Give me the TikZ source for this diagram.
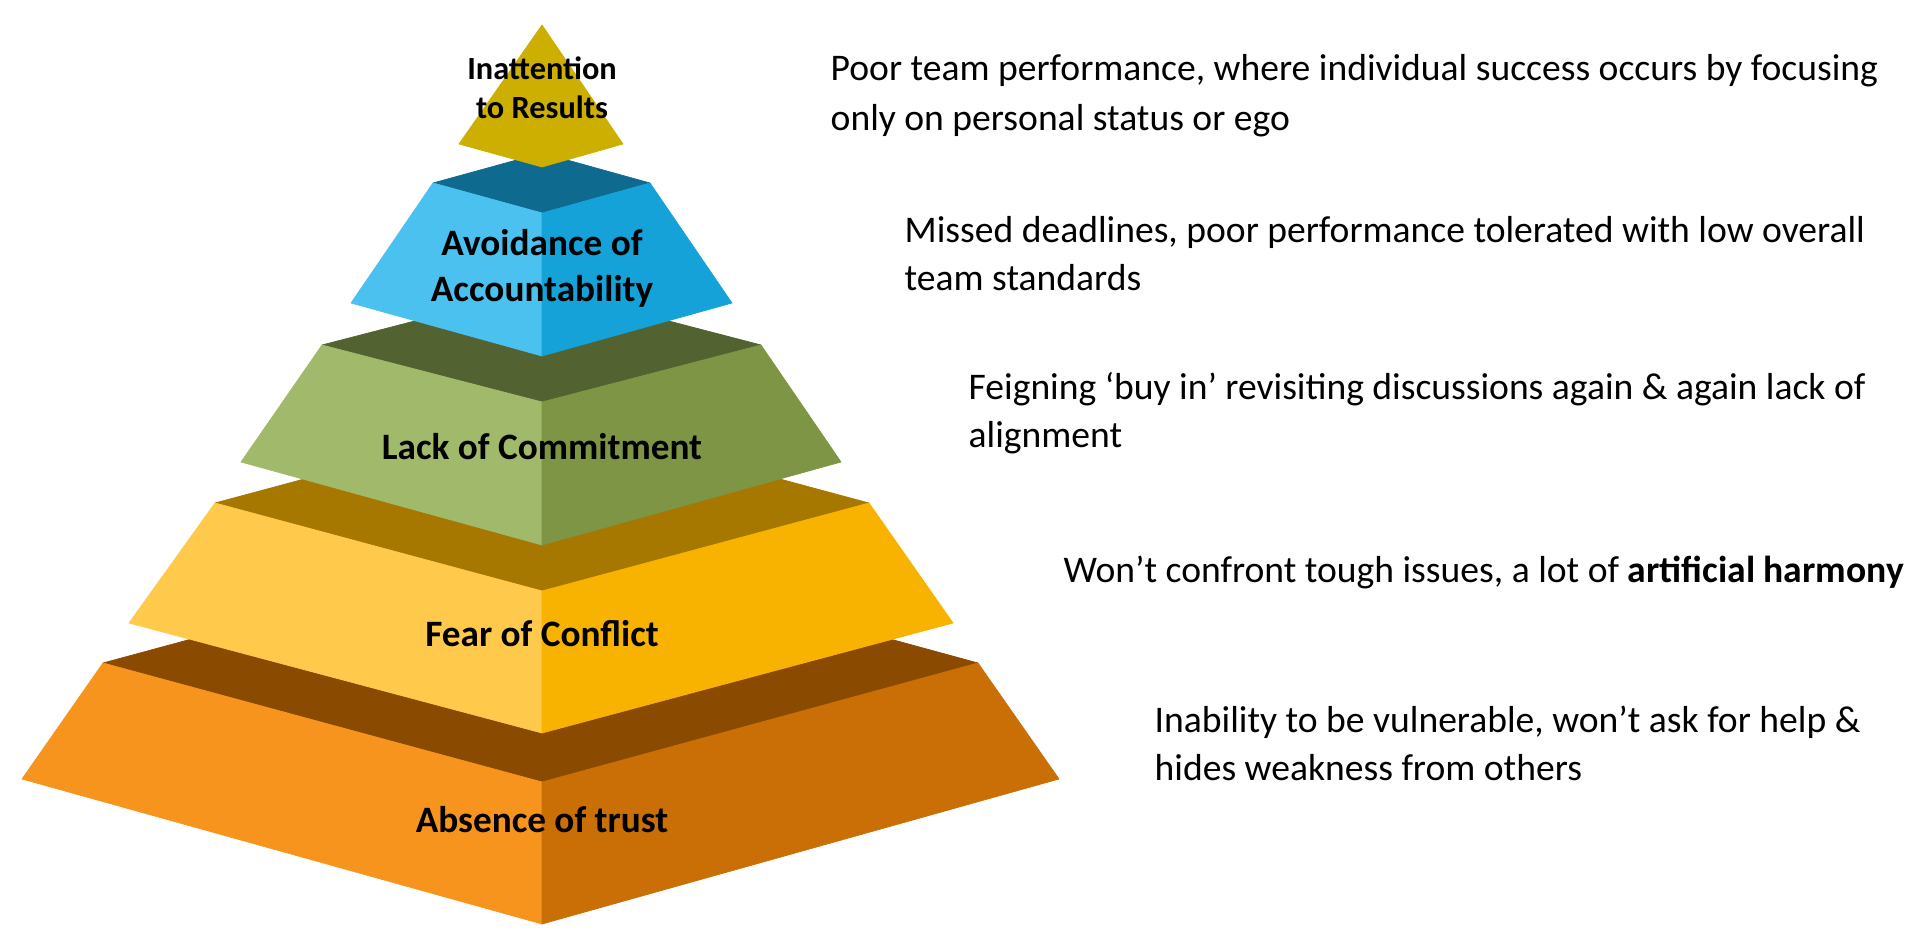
\documentclass[tikz,border=0pt]{standalone}
\usepackage{fontspec}
\setmainfont{Carlito}
\usepackage{xcolor}
\usetikzlibrary{positioning}
\definecolor{TrustL}{HTML}{F7941D}
\definecolor{TrustR}{HTML}{C96F06}
\definecolor{TrustTop}{HTML}{8A4A00}
\definecolor{FearL}{HTML}{FFC94B}
\definecolor{FearR}{HTML}{F8B200}
\definecolor{FearTop}{HTML}{A77800}
\definecolor{CommitL}{HTML}{A1B96B}
\definecolor{CommitR}{HTML}{7E9545}
\definecolor{CommitTop}{HTML}{536231}
\definecolor{AccountL}{HTML}{4BC1EF}
\definecolor{AccountR}{HTML}{14A2D8}
\definecolor{AccountTop}{HTML}{0E6B8F}
\definecolor{ResultsFill}{HTML}{CCAF00}
\definecolor{Ink}{HTML}{000000}
\tikzset{
  face/.style={fill=#1,draw=#1,line width=0.2pt,line join=round},
  tierlabel/.style={font=\fontsize{10.6}{13}\selectfont\bfseries,text=Ink,align=center,inner sep=0pt},
  note/.style={anchor=west,font=\fontsize{10.7}{13.7}\selectfont,text=Ink,align=left,inner sep=0pt}
}

\begin{document}
\begin{tikzpicture}[x=1cm,y=1cm]
\useasboundingbox (0,0) rectangle (19.20,9.29);
% absence of trust
\path[face=TrustTop] (1.03,2.66) -- (5.42,3.85) -- (9.78,2.66) -- (5.42,1.47) -- cycle;
\path[face=TrustL] (1.03,2.66) -- (5.42,1.47) -- (5.42,0.05) -- (0.22,1.50) -- cycle;
\path[face=TrustR] (9.78,2.66) -- (5.42,1.47) -- (5.42,0.05) -- (10.59,1.50) -- cycle;
% fear of conflict
\path[face=FearTop] (2.15,4.26) -- (5.42,5.14) -- (8.69,4.26) -- (5.42,3.38) -- cycle;
\path[face=FearL] (2.15,4.26) -- (5.42,3.38) -- (5.42,1.96) -- (1.29,3.06) -- cycle;
\path[face=FearR] (8.69,4.26) -- (5.42,3.38) -- (5.42,1.96) -- (9.53,3.06) -- cycle;
% lack of commitment
\path[face=CommitTop] (3.22,5.84) -- (5.42,6.41) -- (7.61,5.84) -- (5.42,5.27) -- cycle;
\path[face=CommitL] (3.22,5.84) -- (5.42,5.27) -- (5.42,3.84) -- (2.41,4.67) -- cycle;
\path[face=CommitR] (7.61,5.84) -- (5.42,5.27) -- (5.42,3.84) -- (8.41,4.67) -- cycle;
% avoidance of accountability
\path[face=AccountTop] (4.33,7.46) -- (5.42,7.76) -- (6.50,7.46) -- (5.42,7.16) -- cycle;
\path[face=AccountL] (4.33,7.46) -- (5.42,7.16) -- (5.42,5.73) -- (3.51,6.26) -- cycle;
\path[face=AccountR] (6.50,7.46) -- (5.42,7.16) -- (5.42,5.73) -- (7.32,6.26) -- cycle;
% inattention to results
\path[face=ResultsFill] (5.42,9.04) -- (6.23,7.85) -- (5.42,7.62) -- (4.59,7.85) -- cycle;
% tier labels
\node[tierlabel] (trust) at (5.42,1.09) {Absence of trust};
\node[tierlabel] (conflict) at (5.42,2.95) {Fear of Conflict};
\node[tierlabel] (commitment) at (5.42,4.82) {Lack of Commitment};
\node[tierlabel,font=\fontsize{10.6}{13.1}\selectfont\bfseries] (accountability) at (5.42,6.61) {Avoidance of\\Accountability};
\node[tierlabel,font=\fontsize{9.2}{11.1}\selectfont\bfseries] (results) at (5.42,8.41) {Inattention\\to Results};
% notes
\node[note,font=\fontsize{10.7}{14.2}\selectfont] (resultsnote) at (8.30,8.33) {Poor team performance, where individual success occurs by focusing\\only on personal status or ego};
\node[note] (accountnote) at (9.04,6.75) {Missed deadlines, poor performance tolerated with low overall\\team standards};
\node[note] (commitnote) at (9.68,5.16) {Feigning ‘buy in’ revisiting discussions again \& again lack of\\alignment};
\node[note] (conflictnote) at (10.63,3.57) {Won’t confront tough issues, a lot of \textbf{artificial harmony}};
\node[note] (trustnote) at (11.54,1.86) {Inability to be vulnerable, won’t ask for help \&\\hides weakness from others};
\end{tikzpicture}
\end{document}
